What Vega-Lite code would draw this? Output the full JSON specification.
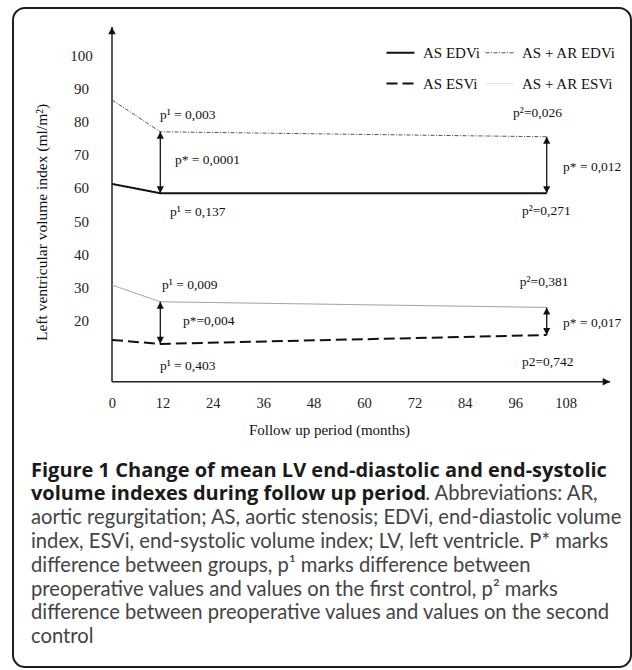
{
  "$schema": "https://vega.github.io/schema/vega-lite/v6.json",
  "width": 618,
  "height": 659,
  "autosize": {"type": "none"},
  "padding": {"left": 13, "top": 8, "right": 1, "bottom": 3},
  "background": "white",
  "config": {
    "view": {"stroke": "#1e1e1e", "strokeWidth": 2, "cornerRadius": 12},
    "font": "Liberation Serif"
  },
  "datasets": {
    "series": [
      {"series": "AS EDVi", "month": 0, "value": 61.2},
      {"series": "AS EDVi", "month": 11.5, "value": 58.4},
      {"series": "AS EDVi", "month": 103.5, "value": 58.4},
      {"series": "AS + AR EDVi", "month": 0, "value": 86.5},
      {"series": "AS + AR EDVi", "month": 11.5, "value": 76.9},
      {"series": "AS + AR EDVi", "month": 103.5, "value": 75.4},
      {"series": "AS ESVi", "month": 0, "value": 14.2},
      {"series": "AS ESVi", "month": 11.5, "value": 13.0},
      {"series": "AS ESVi", "month": 103.5, "value": 15.7},
      {"series": "AS + AR ESVi", "month": 0, "value": 30.75},
      {"series": "AS + AR ESVi", "month": 11.5, "value": 25.7},
      {"series": "AS + AR ESVi", "month": 103.5, "value": 24.0}
    ],
    "axes": [
      {"month": 0, "value": 1.63, "month2": 0, "value2": 108.5},
      {"month": 0, "value": 1.63, "month2": 118.6, "value2": 1.63}
    ],
    "tips": [
      {"month": 0, "value": 108.5, "dir": "up"},
      {"month": 118.6, "value": 1.63, "dir": "right"}
    ],
    "gaps": [
      {"month": 11.5, "value": 76.9, "value2": 58.4},
      {"month": 103.5, "value": 75.4, "value2": 58.4},
      {"month": 11.5, "value": 25.7, "value2": 13.0},
      {"month": 103.5, "value": 24.0, "value2": 15.7}
    ],
    "notes": [
      {"month": 11.4, "value": 82.0, "text": "p¹ = 0,003"},
      {"month": 15.0, "value": 68.4, "text": "p* = 0,0001"},
      {"month": 13.8, "value": 52.7, "text": "p¹ = 0,137"},
      {"month": 95.5, "value": 82.6, "text": "p²=0,026"},
      {"month": 107.4, "value": 66.3, "text": "p* = 0,012"},
      {"month": 97.6, "value": 53.0, "text": "p²=0,271"},
      {"month": 11.9, "value": 30.75, "text": "p¹ = 0,009"},
      {"month": 16.9, "value": 19.9, "text": "p*=0,004"},
      {"month": 11.4, "value": 6.4, "text": "p¹ = 0,403"},
      {"month": 97.1, "value": 31.7, "text": "p²=0,381"},
      {"month": 107.4, "value": 19.3, "text": "p* = 0,017"},
      {"month": 97.6, "value": 7.6, "text": "p2=0,742"}
    ],
    "captionBold": [
      {"line": 1, "text": "Figure 1 Change of mean LV end-diastolic and end-systolic"},
      {"line": 2, "text": "volume indexes during follow up period"}
    ],
    "captionRegular": [
      {"line": 3, "text": "aortic regurgitation; AS, aortic stenosis; EDVi, end-diastolic volume"},
      {"line": 4, "text": "index, ESVi, end-systolic volume index; LV, left ventricle. P* marks"},
      {"line": 5, "text": "difference between groups, p¹ marks difference between"},
      {"line": 6, "text": "preoperative values and values on the first control, p² marks"},
      {"line": 7, "text": "difference between preoperative values and values on the second"},
      {"line": 8, "text": "control"}
    ],
    "captionTail": [
      {"line": 2, "text": ". Abbreviations: AR,"}
    ]
  },
  "layer": [
    {
      "encoding": {
        "x": {
          "field": "month",
          "type": "quantitative",
          "scale": {"domain": [-23.571, 123.571], "nice": false, "zero": false},
          "axis": {
            "orient": "bottom",
            "offset": -285.3,
            "values": [0, 12, 24, 36, 48, 60, 72, 84, 96, 108],
            "domain": false,
            "ticks": false,
            "tickSize": 0,
            "grid": false,
            "labelPadding": 22,
            "labelBaseline": "middle",
            "labelFont": "Liberation Serif",
            "labelFontSize": 14.5,
            "labelColor": "#222",
            "title": "Follow up period (months)",
            "titleFont": "Liberation Serif",
            "titleFontSize": 15,
            "titleFontWeight": "normal",
            "titleColor": "#111",
            "titleX": 316,
            "titleY": 48,
            "titleBaseline": "middle",
            "titleAlign": "center"
          }
        },
        "y": {
          "field": "value",
          "type": "quantitative",
          "scale": {"domain": [-84.31, 114.19], "nice": false, "zero": false},
          "axis": {
            "orient": "left",
            "offset": -99,
            "values": [20, 30, 40, 50, 60, 70, 80, 90, 100],
            "domain": false,
            "ticks": false,
            "tickSize": 0,
            "grid": false,
            "labelPadding": 31,
            "labelAlign": "center",
            "labelBaseline": "middle",
            "labelFont": "Liberation Serif",
            "labelFontSize": 15,
            "labelColor": "#222",
            "title": "Left ventricular volume index (ml/m²)",
            "titleFont": "Liberation Serif",
            "titleFontSize": 15.5,
            "titleFontWeight": "normal",
            "titleColor": "#111",
            "titleAngle": 270,
            "titleX": -66,
            "titleY": 214,
            "titleBaseline": "alphabetic",
            "titleAlign": "center"
          }
        }
      },
      "layer": [
        {
          "data": {"name": "axes"},
          "mark": {"type": "rule", "color": "#222", "strokeWidth": 1.5},
          "encoding": {
            "x2": {"field": "month2"},
            "y2": {"field": "value2"}
          }
        },
        {
          "data": {"name": "tips"},
          "mark": {"type": "point", "filled": true, "color": "#111", "opacity": 1, "size": 220},
          "encoding": {
            "shape": {
              "field": "dir",
              "type": "nominal",
              "scale": {"domain": ["up", "right"], "range": ["M0,0L-0.5,1L0.5,1Z", "M0,0L-1,-0.5L-1,0.5Z"]},
              "legend": null
            }
          }
        },
        {
          "data": {"name": "series"},
          "mark": {"type": "line"},
          "encoding": {
            "color": {
              "field": "series",
              "type": "nominal",
              "scale": {
                "domain": ["AS EDVi", "AS ESVi", "AS + AR EDVi", "AS + AR ESVi"],
                "range": ["#111111", "#111111", "#555555", "#9a9a9a"]
              },
              "legend": {
                "orient": "none",
                "legendX": 380,
                "legendY": 37,
                "columns": 2,
                "title": null,
                "symbolType": "stroke",
                "symbolSize": 784,
                "symbolStrokeWidth": 1.5,
                "labelFont": "Liberation Serif",
                "labelFontSize": 15,
                "labelColor": "#111",
                "labelOffset": 15,
                "columnPadding": 2,
                "rowPadding": 15,
                "padding": 0,
                "encode": {
                  "symbols": {
                    "update": {
                      "strokeWidth": {"signal": "datum.value === 'AS EDVi' || datum.value === 'AS ESVi' ? 2 : 1.2"},
                      "opacity": {"signal": "datum.value === 'AS + AR ESVi' ? 0.25 : 1"}
                    }
                  }
                }
              }
            },
            "strokeDash": {
              "field": "series",
              "type": "nominal",
              "scale": {
                "domain": ["AS EDVi", "AS ESVi", "AS + AR EDVi", "AS + AR ESVi"],
                "range": [[1, 0], [11, 5], [4, 1.5, 1, 1.5], [1, 0]]
              }
            },
            "strokeWidth": {
              "condition": {"test": "datum.series === 'AS EDVi' || datum.series === 'AS ESVi'", "value": 2},
              "value": 1
            }
          }
        },
        {
          "data": {"name": "gaps"},
          "mark": {"type": "rule", "color": "#111", "strokeWidth": 1.3},
          "encoding": {
            "y2": {"field": "value2"}
          }
        },
        {
          "data": {"name": "gaps"},
          "mark": {"type": "point", "filled": true, "color": "#111", "opacity": 1, "size": 200, "shape": "M0,0L-0.5,1L0.5,1Z"},
          "encoding": {}
        },
        {
          "data": {"name": "gaps"},
          "mark": {"type": "point", "filled": true, "color": "#111", "opacity": 1, "size": 200, "shape": "M0,0L-0.5,-1L0.5,-1Z"},
          "encoding": {
            "y": {"field": "value2", "type": "quantitative"}
          }
        },
        {
          "data": {"name": "notes"},
          "mark": {"type": "text", "align": "left", "baseline": "middle", "font": "Liberation Serif", "fontSize": 13.5, "color": "#111"},
          "encoding": {
            "text": {"field": "text", "type": "nominal"}
          }
        }
      ]
    },
    {
      "encoding": {
        "y": {
          "field": "line",
          "type": "quantitative",
          "scale": {"domain": [-18.693, 8.996], "nice": false, "zero": false, "reverse": true},
          "axis": null
        }
      },
      "layer": [
        {
          "data": {"name": "captionBold"},
          "mark": {"type": "text", "align": "left", "baseline": "alphabetic", "font": "Open Sans", "fontWeight": "bold", "fontSize": 20, "color": "#1a1a1a"},
          "encoding": {
            "x": {"datum": -19.286, "type": "quantitative"},
            "text": {"field": "text", "type": "nominal"}
          }
        },
        {
          "data": {"name": "captionRegular"},
          "mark": {"type": "text", "align": "left", "baseline": "alphabetic", "font": "Lato", "fontSize": 20.2, "color": "#444444"},
          "encoding": {
            "x": {"datum": -19.286, "type": "quantitative"},
            "text": {"field": "text", "type": "nominal"}
          }
        },
        {
          "data": {"name": "captionTail"},
          "mark": {"type": "text", "align": "left", "baseline": "alphabetic", "font": "Lato", "fontSize": 20.2, "color": "#444444"},
          "encoding": {
            "x": {"datum": 74.6, "type": "quantitative"},
            "text": {"field": "text", "type": "nominal"}
          }
        }
      ]
    }
  ],
  "resolve": {"scale": {"y": "independent"}}
}
